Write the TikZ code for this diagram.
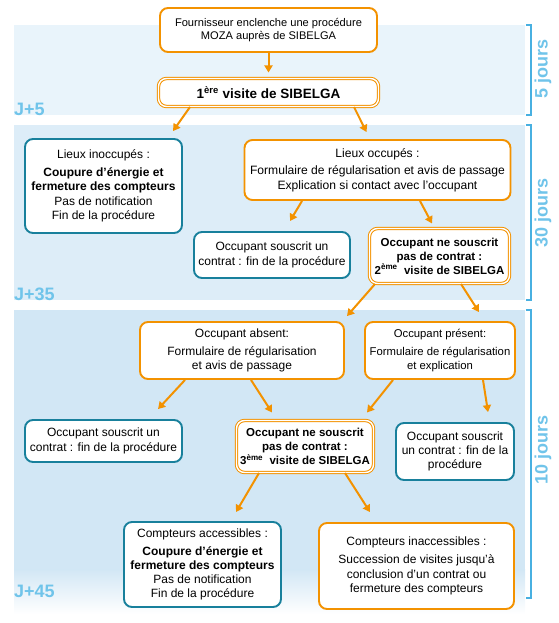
\documentclass[tikz,border=0pt]{standalone}
\usepackage{fontspec}
\setmainfont{Liberation Sans}
\usetikzlibrary{positioning,arrows.meta}

\definecolor{moza}{RGB}{243,146,0}
\definecolor{sibteal}{RGB}{24,128,156}
\definecolor{daycolor}{RGB}{112,196,234}
\definecolor{bandone}{RGB}{233,244,251}
\definecolor{bandtwo}{RGB}{221,237,248}
\definecolor{bandthree}{RGB}{210,231,245}
\definecolor{bracketblue}{RGB}{72,176,225}

\begin{document}
\begin{tikzpicture}[x=1pt,y=-1pt,
    every node/.style={font=\fontsize{12}{14.3}\selectfont, align=center, inner sep=0pt},
    orangebox/.style={rectangle, rounded corners=8pt, draw=moza, line width=1.9pt, fill=white},
    tealbox/.style={rectangle, rounded corners=8pt, draw=sibteal, line width=1.9pt, fill=white},
    visitbox/.style={rectangle, rounded corners=8pt, draw=moza, line width=1pt, double=white, double distance=1.4pt, fill=white, font=\bfseries\fontsize{11.5}{14}\selectfont},
    flow/.style={-{Triangle[length=7pt,width=8pt]}, draw=moza, line width=2pt},
    daytag/.style={text=daycolor, font=\bfseries\fontsize{18}{20}\selectfont},
    bracket/.style={draw=bracketblue, line width=1.1pt}]
    \useasboundingbox (0,0) rectangle (558,623);

    \fill[bandone] (14,25) rectangle (525,115);
    \fill[bandtwo] (14,125) rectangle (525,300);
    \fill[bandthree] (14,310) rectangle (525,570);
    \shade[top color=bandthree, bottom color=white] (14,569.5) rectangle (525,614);

    \draw[bracket] (526,25) -- (531,25) -- (531,115) -- (526,115);
    \draw[bracket] (526,125) -- (531,125) -- (531,300) -- (526,300);
    \draw[bracket] (526,310) -- (531,310) -- (531,598) -- (526,598);

    \node[daytag, anchor=base west] (J5) at (14,115) {J+5};
    \node[daytag, anchor=base west] (J35) at (14,300) {J+35};
    \node[daytag, anchor=base west] (J45) at (14,597) {J+45};
    \node[daytag, rotate=90] (Jours5) at (543,69) {5 jours};
    \node[daytag, rotate=90] (Jours30) at (543,213) {30 jours};
    \node[daytag, rotate=90] (Jours10) at (543,450) {10 jours};

    \node[orangebox, minimum width=217pt, minimum height=44pt, font=\fontsize{11.1}{13.3}\selectfont] (Fournisseur) at (268.5,30) {Fournisseur enclenche une procédure\\MOZA auprès de SIBELGA};
    \node[visitbox, minimum width=220pt, minimum height=28pt, font=\bfseries\fontsize{13.5}{15}\selectfont] (Visite1) at (268.5,92.5) {1\textsuperscript{ère} visite de SIBELGA};

    \node[tealbox, minimum width=157pt, minimum height=94pt] (Inoccupe) at (103.5,186) {Lieux inoccupés :\\[3.5pt]\textbf{Coupure d’énergie et}\\\textbf{fermeture des compteurs}\\Pas de notification\\Fin de la procédure};
    \node[orangebox, minimum width=266pt, minimum height=60pt, font=\fontsize{12.1}{14.3}\selectfont] (Occupe) at (377.5,170) {Lieux occupés :\\[3.5pt]Formulaire de régularisation et avis de passage\\Explication si contact avec l’occupant};
    \node[tealbox, minimum width=156pt, minimum height=46pt] (Souscrit1) at (272,255) {Occupant souscrit un\\contrat : fin de la procédure};
    \node[visitbox, minimum width=140pt, minimum height=55pt] (Visite2) at (439.5,256) {Occupant ne souscrit\\pas de contrat :\\2\textsuperscript{ème}~ visite de SIBELGA};

    \node[orangebox, minimum width=204pt, minimum height=57pt] (Absent) at (242,350.5) {Occupant absent:\\[3.5pt]Formulaire de régularisation\\et avis de passage};
    \node[orangebox, minimum width=150pt, minimum height=57pt, font=\fontsize{11.3}{14.3}\selectfont] (Present) at (440,350.5) {Occupant présent:\\[3.5pt]Formulaire de régularisation\\et explication};
    \node[tealbox, minimum width=157pt, minimum height=42pt] (Souscrit2) at (103.5,441) {Occupant souscrit un\\contrat : fin de la procédure};
    \node[visitbox, minimum width=137pt, minimum height=52pt] (Visite3) at (305,446.5) {Occupant ne souscrit\\pas de contrat :\\3\textsuperscript{ème}~ visite de SIBELGA};
    \node[tealbox, minimum width=118pt, minimum height=57pt] (Souscrit3) at (455,451.5) {Occupant souscrit\\un contrat : fin de la\\procédure};

    \node[tealbox, minimum width=157pt, minimum height=85pt] (Accessible) at (202.5,564.5) {Compteurs accessibles :\\[3.5pt]\textbf{Coupure d’énergie et}\\\textbf{fermeture des compteurs}\\Pas de notification\\Fin de la procédure};
    \node[orangebox, minimum width=195pt, minimum height=86pt] (Inaccessible) at (416.5,566) {Compteurs inaccessibles :\\[3.5pt]Succession de visites jusqu’à\\conclusion d’un contrat ou\\fermeture des compteurs};

    \draw[flow] (Fournisseur.south) to ([yshift=5.5pt]Visite1.north);
    \draw[flow] ([xshift=-78.5pt]Visite1.south) to ([xshift=69.5pt,yshift=7pt]Inoccupe.north);
    \draw[flow] ([xshift=85.5pt]Visite1.south) to ([xshift=-11pt,yshift=7pt]Occupe.north);
    \draw[flow] ([xshift=-75.5pt]Occupe.south) to ([xshift=18pt,yshift=10pt]Souscrit1.north);
    \draw[flow] ([xshift=42.5pt]Occupe.south) to ([xshift=-7.5pt,yshift=4.5pt]Visite2.north);
    \draw[flow] ([xshift=-64.5pt]Visite2.south) to ([xshift=105pt,yshift=5pt]Absent.north);
    \draw[flow] ([xshift=21.5pt]Visite2.south) to ([xshift=39pt,yshift=9pt]Present.north);
    \draw[flow] ([xshift=-57pt]Absent.south) to ([xshift=54.5pt,yshift=10pt]Souscrit2.north);
    \draw[flow] ([xshift=9pt]Absent.south) to ([xshift=-33pt,yshift=7.5pt]Visite3.north);
    \draw[flow] ([xshift=-47pt]Present.south) to ([xshift=62pt,yshift=7.5pt]Visite3.north);
    \draw[flow] ([xshift=43pt]Present.south) to ([xshift=33pt,yshift=10pt]Souscrit3.north);
    \draw[flow] ([xshift=-46pt]Visite3.south) to ([xshift=33.5pt,yshift=9pt]Accessible.north);
    \draw[flow] ([xshift=40pt]Visite3.south) to ([xshift=-46.5pt,yshift=10pt]Inaccessible.north);
  \end{tikzpicture}
\end{document}
